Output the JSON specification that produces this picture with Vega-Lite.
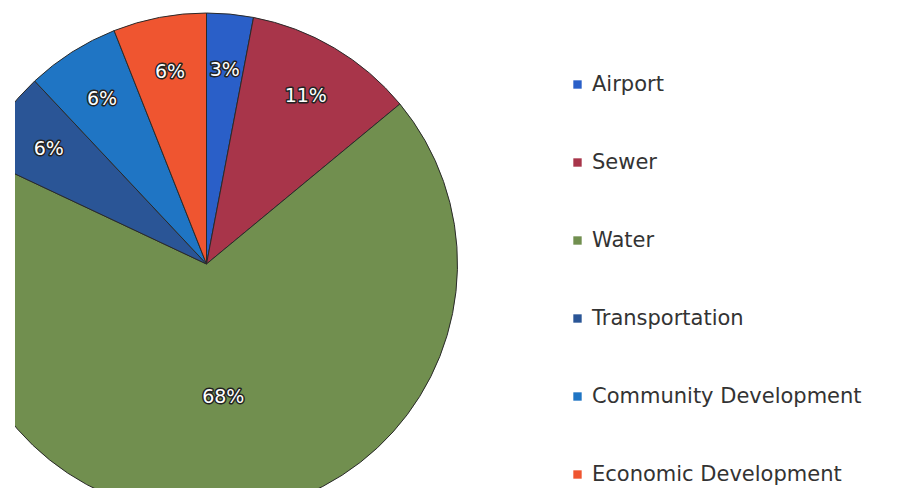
{
  "$schema": "https://vega.github.io/schema/vega-lite/v6.json",
  "autosize": "none",
  "width": 883,
  "height": 488,
  "padding": {"left": 15, "top": 0, "right": 0, "bottom": 0},
  "background": "white",
  "view": {"stroke": null},
  "data": {
    "values": [
      {"idx": 1, "cat": "Airport", "value": 3, "label": "3%"},
      {"idx": 2, "cat": "Sewer", "value": 11, "label": "11%"},
      {"idx": 3, "cat": "Water", "value": 68, "label": "68%"},
      {"idx": 4, "cat": "Transportation", "value": 6, "label": "6%"},
      {"idx": 5, "cat": "Community Development", "value": 6, "label": "6%"},
      {"idx": 6, "cat": "Economic Development", "value": 6, "label": "6%"}
    ]
  },
  "encoding": {
    "theta": {"field": "value", "type": "quantitative", "stack": true},
    "order": {"field": "idx", "type": "quantitative"}
  },
  "layer": [
    {
      "mark": {"type": "arc", "radius": 251, "xOffset": -250, "yOffset": 20, "clip": true, "stroke": "#2a2a2a", "strokeWidth": 1},
      "encoding": {
        "color": {
          "field": "cat",
          "type": "nominal",
          "scale": {
            "domain": ["Airport", "Sewer", "Water", "Transportation", "Community Development", "Economic Development"],
            "range": ["#2a5fc8", "#a8354a", "#718f4f", "#2a5596", "#1f75c4", "#ef5530"]
          },
          "legend": {
            "orient": "none",
            "legendX": 552,
            "legendY": 74,
            "title": null,
            "symbolType": "square",
            "symbolSize": 70,
            "symbolStrokeWidth": 0,
            "labelFont": "DejaVu Sans",
            "labelFontSize": 21,
            "labelColor": "#333333",
            "labelOffset": 4,
            "rowPadding": 56,
            "labelLimit": 400
          }
        }
      }
    },
    {
      "mark": {"type": "text", "radius": 195, "xOffset": -250, "yOffset": 20, "font": "DejaVu Sans", "fontSize": 19, "fill": "#222222", "stroke": "#222222", "strokeWidth": 3, "strokeJoin": "round"},
      "encoding": {
        "text": {"condition": {"test": "datum.cat !== 'Water'", "field": "label"}, "value": ""}
      }
    },
    {
      "mark": {"type": "text", "radius": 195, "xOffset": -250, "yOffset": 20, "font": "DejaVu Sans", "fontSize": 19, "fill": "white"},
      "encoding": {
        "text": {"condition": {"test": "datum.cat !== 'Water'", "field": "label"}, "value": ""}
      }
    },
    {
      "mark": {"type": "text", "radius": 134, "xOffset": -250, "yOffset": 20, "font": "DejaVu Sans", "fontSize": 19, "fill": "#222222", "stroke": "#222222", "strokeWidth": 3, "strokeJoin": "round"},
      "encoding": {
        "text": {"condition": {"test": "datum.cat === 'Water'", "field": "label"}, "value": ""}
      }
    },
    {
      "mark": {"type": "text", "radius": 134, "xOffset": -250, "yOffset": 20, "font": "DejaVu Sans", "fontSize": 19, "fill": "white"},
      "encoding": {
        "text": {"condition": {"test": "datum.cat === 'Water'", "field": "label"}, "value": ""}
      }
    }
  ]
}
